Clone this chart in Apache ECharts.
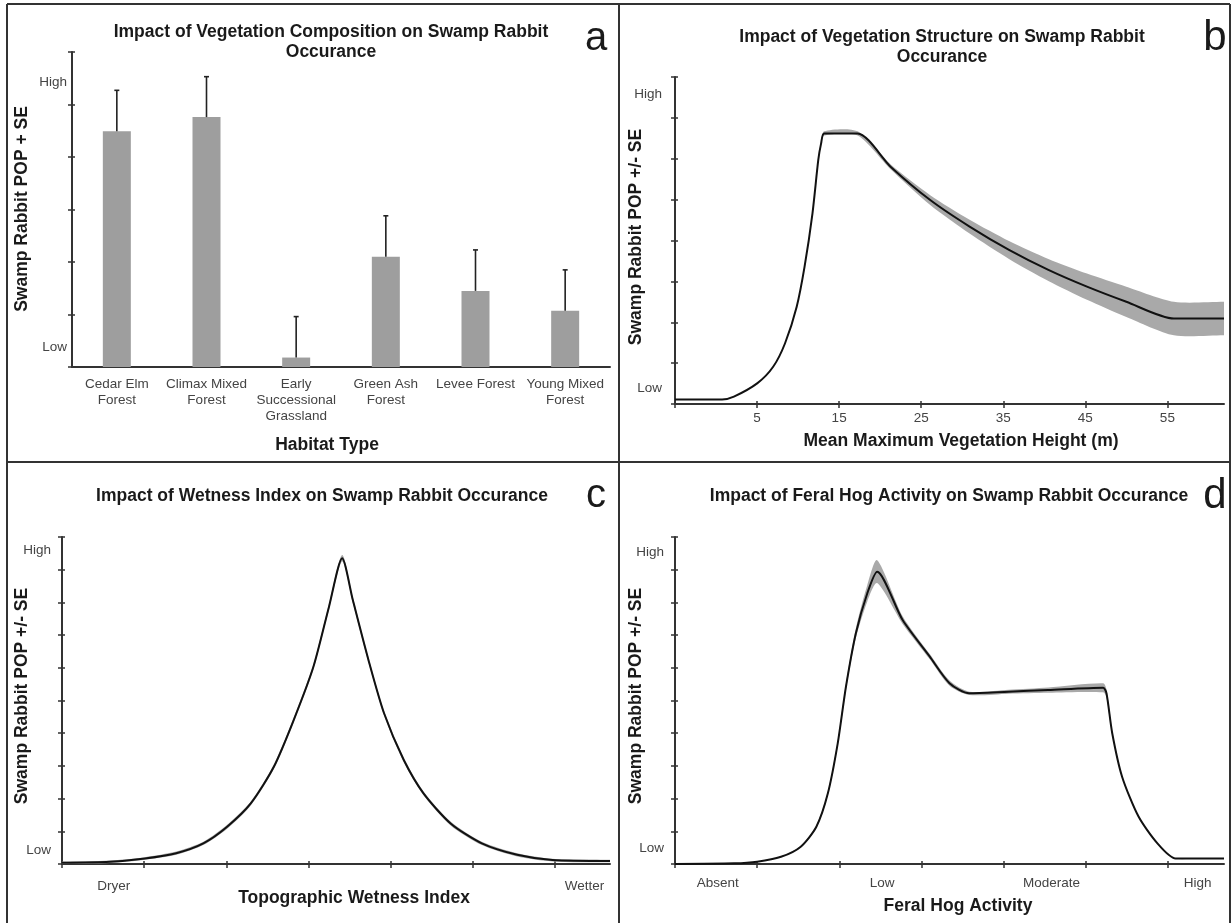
<!DOCTYPE html>
<html>
<head>
<meta charset="utf-8">
<title>Swamp Rabbit Occurance</title>
<script src="https://cdn.jsdelivr.net/npm/echarts@6/dist/echarts.min.js"></script>
<style>
  html, body { margin: 0; padding: 0; background: #fff; }
  #chart { width: 1232px; height: 923px; }
</style>
</head>
<body>
<div id="chart"></div>
<script>
// panel a - vegetation composition
const habitats = ['Cedar Elm\nForest', 'Climax Mixed\nForest', 'Early\nSuccessional\nGrassland', 'Green Ash\nForest', 'Levee Forest', 'Young Mixed\nForest']
const habitatPop = [4.49, 4.76, 0.18, 2.10, 1.45, 1.07]
const habitatSE = [0.78, 0.77, 0.78, 0.78, 0.78, 0.78]
const ticksA = [0, 1, 2, 3, 4, 5, 6]
const levelsA = [[0.38, 'Low'], [5.43, 'High']]

// panel b - vegetation height
const heightX = [-5, 0.74, 2.18, 5.05, 6.96, 8.40, 9.83, 10.79, 11.75, 12.46, 12.8, 13.18, 17.25, 21.3, 26.1, 30.9, 35.7, 40.5, 45.2, 50.0, 55.8, 61.9]
const heightPop = [0.11, 0.11, 0.18, 0.51, 0.91, 1.48, 2.38, 3.36, 4.66, 5.97, 6.37, 6.62, 6.62, 5.80, 4.99, 4.34, 3.77, 3.28, 2.87, 2.50, 2.09, 2.09]
const heightSE = [0, 0, 0, 0, 0, 0, 0, 0, 0, 0, 0.02, 0.05, 0.05, 0.06, 0.12, 0.17, 0.22, 0.27, 0.32, 0.37, 0.41, 0.41]
const ticksB = [-5, 5, 15, 25, 35, 45, 55]
const labelsB = [[5, '5'], [15, '15'], [25, '25'], [35, '35'], [45, '45'], [55, '55']]
const levelsB = [[0.39, 'Low'], [7.58, 'High']]

// panel c - wetness index
const wetX = [0, 0.58, 1.01, 1.39, 1.72, 2.01, 2.30, 2.58, 2.82, 3.06, 3.25, 3.41, 3.54, 3.73, 3.92, 4.16, 4.40, 4.73, 5.11, 5.54, 5.97, 6.67]
const wetPop = [0.04, 0.07, 0.17, 0.33, 0.63, 1.14, 1.86, 2.98, 4.40, 6.03, 7.87, 9.35, 8.07, 6.24, 4.61, 3.18, 2.16, 1.24, 0.63, 0.28, 0.12, 0.09]
const wetSE = [0.04, 0.04, 0.04, 0.05, 0.05, 0.06, 0.06, 0.07, 0.07, 0.08, 0.09, 0.1, 0.09, 0.08, 0.07, 0.07, 0.06, 0.06, 0.05, 0.05, 0.04, 0.04]
const labelsC = [[0.63, 'Dryer'], [6.36, 'Wetter']]
const levelsC = [[0.43, 'Low'], [9.6, 'High']]

// panel d - feral hog activity
const hogX = [0, 0.72, 1.0, 1.29, 1.53, 1.72, 1.86, 1.98, 2.08, 2.20, 2.34, 2.46, 2.77, 3.10, 3.34, 3.58, 4.06, 4.54, 5.21, 5.25, 5.32, 5.44, 5.64, 5.87, 6.09, 6.68]
const hogPop = [0, 0.02, 0.07, 0.22, 0.53, 1.14, 2.16, 3.69, 5.42, 7.05, 8.28, 8.94, 7.46, 6.34, 5.53, 5.22, 5.27, 5.32, 5.39, 5.22, 4.00, 2.67, 1.45, 0.63, 0.17, 0.17]
const hogSE = [0, 0, 0, 0, 0.02, 0.04, 0.06, 0.08, 0.1, 0.15, 0.25, 0.35, 0.12, 0.08, 0.08, 0.05, 0.06, 0.08, 0.14, 0.12, 0.06, 0.04, 0.03, 0.02, 0, 0]
const labelsD = [[0.52, 'Absent'], [2.52, 'Low'], [4.58, 'Moderate'], [6.36, 'High']]
const levelsD = [[0.49, 'Low'], [9.54, 'High']]

const ticks6 = [0, 1, 2, 3, 4, 5, 6]
const ticks8 = [0, 1, 2, 3, 4, 5, 6, 7, 8]
const ticks10 = [0, 1, 2, 3, 4, 5, 6, 7, 8, 9, 10]

const FONT = '"Liberation Sans", Arial, sans-serif'
const AXIS = '#333'
const chart = echarts.init(document.getElementById('chart'))

// text for custom label positions
function labelText (pairs) {
  return function (v) {
    let best = ''
    let d = Infinity
    pairs.forEach(p => {
      if (Math.abs(p[0] - v) < d) { d = Math.abs(p[0] - v); best = p[1] }
    })
    return best
  }
}

// value axis, plus an inside copy so the ticks cross the line
function valueAxes (grid, pos, min, max, ticks, labels, margin) {
  return [
    {
      type: 'value',
      gridIndex: grid,
      position: pos,
      min: min,
      max: max,
      axisLine: { show: true, onZero: false, lineStyle: { color: AXIS, width: 2 } },
      axisTick: { show: true, customValues: ticks, length: 4, lineStyle: { color: AXIS, width: 1.5 } },
      axisLabel: {
        show: true,
        customValues: labels.map(p => p[0]),
        formatter: labelText(labels),
        margin: margin,
        fontFamily: FONT,
        fontSize: 13.5,
        color: '#444'
      },
      splitLine: { show: false }
    },
    {
      type: 'value',
      gridIndex: grid,
      position: pos,
      offset: 0,
      min: min,
      max: max,
      axisLine: { show: false, onZero: false },
      axisTick: { show: true, inside: true, customValues: ticks, length: 3, lineStyle: { color: AXIS, width: 1.5 } },
      axisLabel: { show: false },
      splitLine: { show: false }
    }
  ]
}

function pairs (xs, ys) {
  return xs.map((x, i) => [x, ys[i]])
}

// grey +/- SE band drawn as one polygon through the axis scales
function band (axisIdx, xs, ys, se) {
  return {
    type: 'custom',
    xAxisIndex: axisIdx,
    yAxisIndex: axisIdx,
    silent: true,
    data: pairs(xs, ys),
    renderItem: function (params, api) {
      if (params.dataIndex !== 0) return null
      const top = xs.map((x, i) => api.coord([x, ys[i] + se[i]]))
      const bot = xs.map((x, i) => api.coord([x, Math.max(0, ys[i] - se[i])])).reverse()
      // repeat the end points so the smoothing keeps sharp ends
      const pts = [top[0]].concat(top, [top[top.length - 1]], [bot[0]], bot, [bot[bot.length - 1]])
      return {
        type: 'polygon',
        shape: { points: pts, smooth: 0.25 },
        style: { fill: '#a9a9a9' }
      }
    }
  }
}

function curve (axisIdx, xs, ys) {
  return {
    type: 'line',
    xAxisIndex: axisIdx,
    yAxisIndex: axisIdx,
    data: pairs(xs, ys),
    symbol: 'none',
    smooth: 0.25,
    lineStyle: { color: '#111', width: 2 },
    z: 3
  }
}

function text (str, x, y, size, weight, rot) {
  return {
    type: 'text',
    x: x,
    y: y,
    rotation: rot || 0,
    silent: true,
    style: {
      text: str,
      font: (weight || 'normal') + ' ' + size + 'px ' + FONT,
      fill: '#1a1a1a',
      textAlign: 'center',
      textVerticalAlign: 'middle',
      lineHeight: 20
    }
  }
}

function rule (x1, y1, x2, y2) {
  return { type: 'line', silent: true, shape: { x1: x1, y1: y1, x2: x2, y2: y2 }, style: { stroke: '#333', lineWidth: 2 } }
}

const xB = valueAxes(1, 'bottom', -5, 61.9, ticksB, labelsB, 7)
const xC = valueAxes(2, 'bottom', 0, 6.67, ticks6, labelsC, 15)
const xD = valueAxes(3, 'bottom', 0, 6.68, ticks6, labelsD, 12)
const yA = valueAxes(0, 'left', 0, 6, ticksA, levelsA, 5)
const yB = valueAxes(1, 'left', 0, 8, ticks8, levelsB, 13)
const yC = valueAxes(2, 'left', 0, 10, ticks10, levelsC, 11)
const yD = valueAxes(3, 'left', 0, 10, ticks10, levelsD, 11)

const option = {
  animation: false,
  backgroundColor: '#fff',
  grid: [
    { left: 72, top: 52, width: 538, height: 315 },
    { left: 675, top: 77, width: 549, height: 327 },
    { left: 62, top: 537, width: 548, height: 327 },
    { left: 675, top: 537, width: 549, height: 327 }
  ],
  xAxis: [
    {
      type: 'category',
      gridIndex: 0,
      data: habitats,
      axisLine: { lineStyle: { color: AXIS, width: 2 } },
      axisTick: { show: false },
      axisLabel: { interval: 0, margin: 9, fontFamily: FONT, fontSize: 13.5, lineHeight: 16, color: '#444', verticalAlign: 'top' }
    },
    xB[0], xC[0], xD[0],
    xB[1], xC[1], xD[1]
  ],
  yAxis: [
    yA[0], yB[0], yC[0], yD[0],
    yA[1], yB[1], yC[1], yD[1]
  ],
  series: [
    {
      type: 'bar',
      xAxisIndex: 0,
      yAxisIndex: 0,
      data: habitatPop,
      barWidth: 28,
      itemStyle: { color: '#9e9e9e' }
    },
    {
      // error bars (+SE)
      type: 'custom',
      xAxisIndex: 0,
      yAxisIndex: 0,
      data: habitatPop.map((v, i) => [i, v, v + habitatSE[i]]),
      renderItem: function (params, api) {
        const p0 = api.coord([api.value(0), api.value(1)])
        const p1 = api.coord([api.value(0), api.value(2)])
        const st = { stroke: '#222', lineWidth: 1.6 }
        return {
          type: 'group',
          children: [
            { type: 'line', shape: { x1: p0[0], y1: p0[1], x2: p1[0], y2: p1[1] }, style: st },
            { type: 'line', shape: { x1: p1[0] - 2.5, y1: p1[1], x2: p1[0] + 2.5, y2: p1[1] }, style: st }
          ]
        }
      },
      z: 3
    },
    band(1, heightX, heightPop, heightSE),
    curve(1, heightX, heightPop),
    band(2, wetX, wetPop, wetSE),
    curve(2, wetX, wetPop),
    band(3, hogX, hogPop, hogSE),
    curve(3, hogX, hogPop)
  ],
  graphic: [
    rule(7, 4, 1230, 4),
    rule(7, 4, 7, 923),
    rule(1230, 4, 1230, 923),
    rule(619, 4, 619, 923),
    rule(7, 462, 1230, 462),
    text('Impact of Vegetation Composition on Swamp Rabbit\nOccurance', 331, 42, 17.5, 'bold'),
    text('Impact of Vegetation Structure on Swamp Rabbit\nOccurance', 942, 47, 17.5, 'bold'),
    text('Impact of Wetness Index on Swamp Rabbit Occurance', 322, 496, 17.5, 'bold'),
    text('Impact of Feral Hog Activity on Swamp Rabbit Occurance', 949, 496, 17.5, 'bold'),
    text('a', 596, 39, 40),
    text('b', 1215, 38, 42),
    text('c', 596, 496, 40),
    text('d', 1215, 496, 42),
    text('Swamp Rabbit POP + SE', 22, 209, 17.5, 'bold', Math.PI / 2),
    text('Swamp Rabbit POP +/- SE', 636, 237, 17.5, 'bold', Math.PI / 2),
    text('Swamp Rabbit POP +/- SE', 22, 696, 17.5, 'bold', Math.PI / 2),
    text('Swamp Rabbit POP +/- SE', 636, 696, 17.5, 'bold', Math.PI / 2),
    text('Habitat Type', 327, 445, 17.5, 'bold'),
    text('Mean Maximum Vegetation Height (m)', 961, 441, 17.5, 'bold'),
    text('Topographic Wetness Index', 354, 898, 17.5, 'bold'),
    text('Feral Hog Activity', 958, 906, 17.5, 'bold')
  ]
}

chart.setOption(option)
</script>
</body>
</html>
